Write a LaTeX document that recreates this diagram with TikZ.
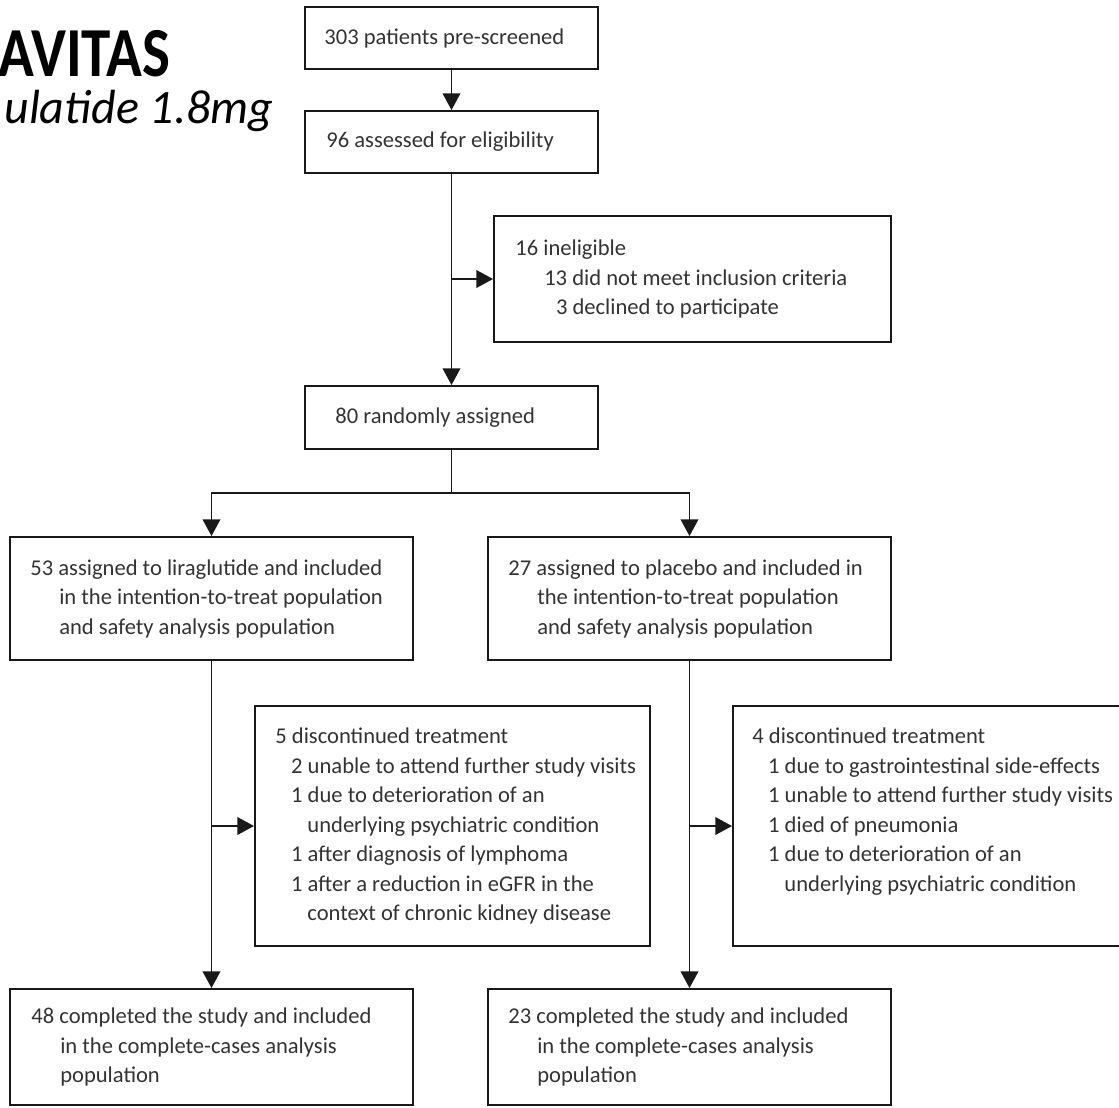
\documentclass[tikz,border=0pt]{standalone}
\usepackage{fontspec}
\usepackage{graphicx}
\setmainfont{Carlito}
\usetikzlibrary{arrows.meta,fit}
\tikzset{
  frame/.style={draw=black!90,line width=1.1pt,inner sep=0pt},
  txt/.style={align=left,inner sep=0pt,text=black!80,font=\fontsize{12.85}{16.8}\selectfont},
  link/.style={draw=black!90,line width=1.1pt},
  arr/.style={link,-{Triangle[length=9.5pt,width=10pt]}},
}
\newcommand{\subind}{\hspace*{0.7em}}
\newcommand{\contind}{\hspace*{1.42em}}
\newcommand{\hangind}{\hspace*{1.28em}}
\begin{document}
\begin{tikzpicture}[x=0.02cm,y=-0.02cm]
\clip (0,0) rectangle (1119,1107);
% title, cut at the left
\node[anchor=base west,inner sep=0pt,font=\fontsize{40}{42}\selectfont\bfseries](trial) at (-2,76){\scalebox{0.84}[1]{AVITAS}};
\node[anchor=base west,inner sep=0pt,font=\fontsize{27.3}{30}\selectfont\itshape](dose) at (4,123){ulatide 1.8mg};
% frames
\node[frame,fit={(305,7) (598,69)}](pre){};
\node[frame,fit={(305,111) (598,173)}](elig){};
\node[frame,fit={(494,216) (891,342)}](inel){};
\node[frame,fit={(305,386) (598,449)}](rand){};
\node[frame,fit={(10,537) (413,660)}](lira){};
\node[frame,fit={(488,537) (891,660)}](plac){};
\node[frame,fit={(255,706) (650,946)}](dfive){};
\node[frame,fit={(733,706) (1140,946)}](dfour){};
\node[frame,fit={(10,989) (413,1105)}](compl){};
\node[frame,fit={(488,989) (891,1105)}](compp){};
% texts
\node[txt,anchor=west](pretxt) at ([shift={(20,0)}]pre.west){303 patients pre-screened};
\node[txt,anchor=west](eligtxt) at ([shift={(22,0)}]elig.west){96 assessed for eligibility};
\node[txt,anchor=west](ineltxt) at ([shift={(22,0)}]inel.west){16 ineligible\\
  \hspace*{1.28em}13 did not meet inclusion criteria\\
  \hspace*{1.8em}3 declined to participate};
\node[txt,anchor=west](randtxt) at ([shift={(31,0)}]rand.west){80 randomly assigned};
\node[txt,anchor=west](liratxt) at ([shift={(21,0)}]lira.west){53 assigned to liraglutide and included\\
  \hangind in the intention-to-treat population\\
  \hangind and safety analysis population};
\node[txt,anchor=west](plactxt) at ([shift={(21,0)}]plac.west){27 assigned to placebo and included in\\
  \hangind the intention-to-treat population\\
  \hangind and safety analysis population};
\node[txt,anchor=west](dfivetxt) at ([shift={(21,0)}]dfive.west){5 discontinued treatment\\
  \subind 2 unable to attend further study visits\\
  \subind 1 due to deterioration of an\\
  \contind underlying psychiatric condition\\
  \subind 1 after diagnosis of lymphoma\\
  \subind 1 after a reduction in eGFR in the\\
  \contind context of chronic kidney disease};
\coordinate(dfourtop) at (dfivetxt.north -| dfour.west);
\node[txt,anchor=north west](dfourtxt) at ([shift={(20,0)}]dfourtop){4 discontinued treatment\\
  \subind 1 due to gastrointestinal side-effects\\
  \subind 1 unable to attend further study visits\\
  \subind 1 died of pneumonia\\
  \subind 1 due to deterioration of an\\
  \contind underlying psychiatric condition};
\node[txt,anchor=west](compltxt) at ([shift={(22,0)}]compl.west){48 completed the study and included\\
  \hangind in the complete-cases analysis\\
  \hangind population};
\node[txt,anchor=west](compptxt) at ([shift={(21,0)}]compp.west){23 completed the study and included\\
  \hangind in the complete-cases analysis\\
  \hangind population};
% connectors
\coordinate(fork) at (451.5,493);
\draw[arr](pre.south)--(elig.north);
\draw[arr](elig.south)--(rand.north);
\draw[arr](elig.south |- inel.west)--(inel.west);
\draw[link](rand.south)--(fork);
\draw[arr](fork)-|(lira.north);
\draw[arr](fork)-|(plac.north);
\draw[arr](lira.south)--(compl.north);
\draw[arr](lira.south |- dfive.west)--(dfive.west);
\draw[arr](plac.south)--(compp.north);
\draw[arr](plac.south |- dfour.west)--(dfour.west);
\end{tikzpicture}
\end{document}
